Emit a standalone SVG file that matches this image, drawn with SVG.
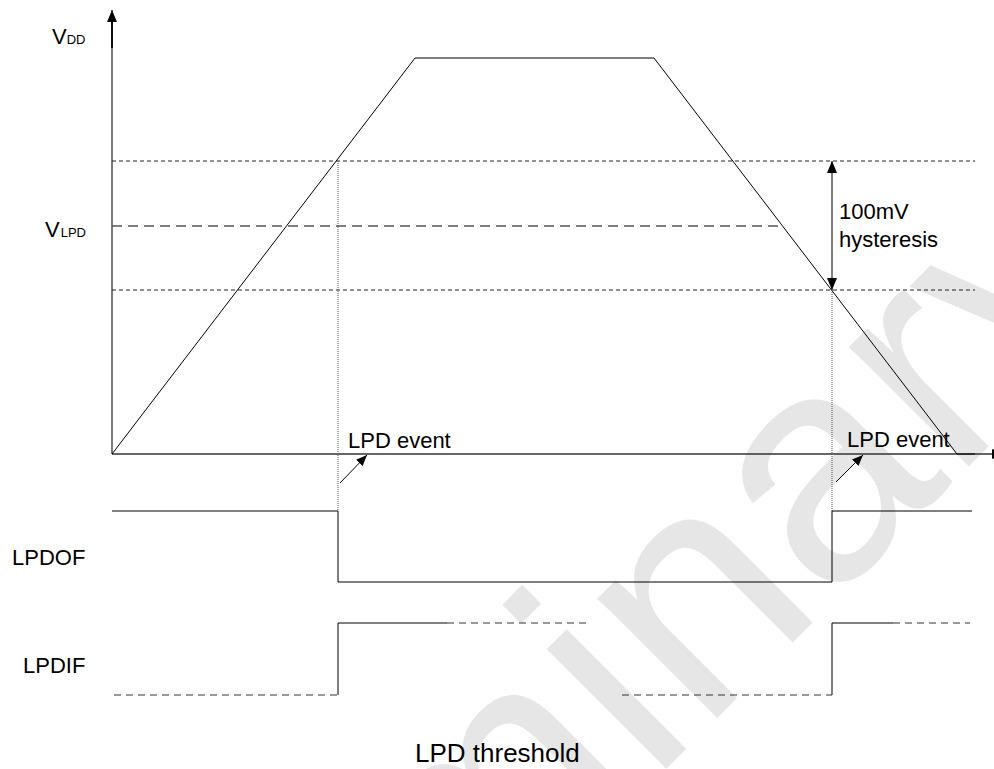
<svg xmlns="http://www.w3.org/2000/svg" width="994" height="769" viewBox="0 0 994 769">
<style>
.ln{stroke:#000;stroke-width:1;fill:none}
.ax{stroke:#333;stroke-width:1.3;fill:none}
.dsh{stroke:#222;stroke-width:1;stroke-dasharray:4 3;fill:none}
.vl{stroke:#555;stroke-width:1.5;stroke-dasharray:10 6;fill:none}
.dot{stroke:#555;stroke-width:1;stroke-dasharray:1 1;fill:none}
.sd{stroke:#333;stroke-width:1;stroke-dasharray:7 5;fill:none}
.t{font-family:"Liberation Sans",Arial,sans-serif;font-size:22px;fill:#000}
.wm{font-family:"Liberation Sans",Arial,sans-serif;font-size:320px;fill:#e6e6e6}
</style>
<defs>
<marker id="ah" viewBox="0 0 12 10" refX="12" refY="5" markerWidth="12" markerHeight="10" markerUnits="userSpaceOnUse" orient="auto-start-reverse">
<path d="M0,0 L12,5 L0,10 z" fill="#000"/>
</marker>
<marker id="ahs" viewBox="0 0 11 9" refX="11" refY="4.5" markerWidth="11" markerHeight="9" markerUnits="userSpaceOnUse" orient="auto">
<path d="M0,0 L11,4.5 L0,9 z" fill="#000"/>
</marker>
</defs>
<rect width="994" height="769" fill="#fff"/>
<text class="wm" transform="translate(10,1425) rotate(-45)" x="0" y="0">Preliminary</text>

<g id="axes">
<line class="ax" x1="112" y1="454" x2="112" y2="10" marker-end="url(#ah)"/>
<line stroke="#000" stroke-width="1.8" x1="112" y1="48" x2="112" y2="20"/>
<line class="ax" x1="112" y1="454" x2="1004" y2="454" marker-end="url(#ah)"/>
</g>

<g id="levels">
<line class="dsh" x1="112" y1="161" x2="975" y2="161"/>
<line class="vl" x1="112" y1="226" x2="782" y2="226"/>
<line class="dsh" x1="112" y1="290" x2="975" y2="290"/>
</g>

<g id="vdd-curve">
<polyline class="ln" points="112,454 415,58 654,58 957,454 975,454"/>
</g>

<g id="connectors">
<line class="dot" x1="338" y1="161" x2="338" y2="511"/>
<line class="dot" x1="832" y1="290" x2="832" y2="511"/>
<line class="ln" x1="832" y1="161" x2="832" y2="290" marker-start="url(#ah)" marker-end="url(#ah)"/>
<line class="ln" x1="340" y1="483" x2="367" y2="455" marker-end="url(#ahs)"/>
<line class="ln" x1="836" y1="482" x2="863" y2="455" marker-end="url(#ahs)"/>
</g>

<g id="lpdof">
<polyline class="ln" points="112,511 338,511 338,582 832,582 832,511 972,511"/>
</g>

<g id="lpdif">
<line class="sd" x1="114" y1="695" x2="338" y2="695"/>
<polyline class="ln" points="338,695 338,623 447,623"/>
<line class="sd" x1="447" y1="623" x2="590" y2="623"/>
<line class="sd" x1="622" y1="695" x2="832" y2="695"/>
<polyline class="ln" points="832,695 832,623 893,623"/>
<line class="sd" x1="893" y1="623" x2="970" y2="623"/>
</g>

<g id="labels">
<text class="t" x="52" y="44" font-size="21">V<tspan font-size="13">DD</tspan></text>
<text class="t" x="45" y="237" font-size="21">V<tspan font-size="13" dx="1">LPD</tspan></text>
<text class="t" x="839" y="219">100mV</text>
<text class="t" x="839" y="247">hysteresis</text>
<text class="t" x="348" y="448">LPD event</text>
<text class="t" x="847" y="447">LPD event</text>
<text class="t" x="12" y="565">LPDOF</text>
<text class="t" x="23" y="673">LPDIF</text>
<text class="t" x="415" y="762" style="font-size:26px">LPD threshold</text>
</g>
</svg>
